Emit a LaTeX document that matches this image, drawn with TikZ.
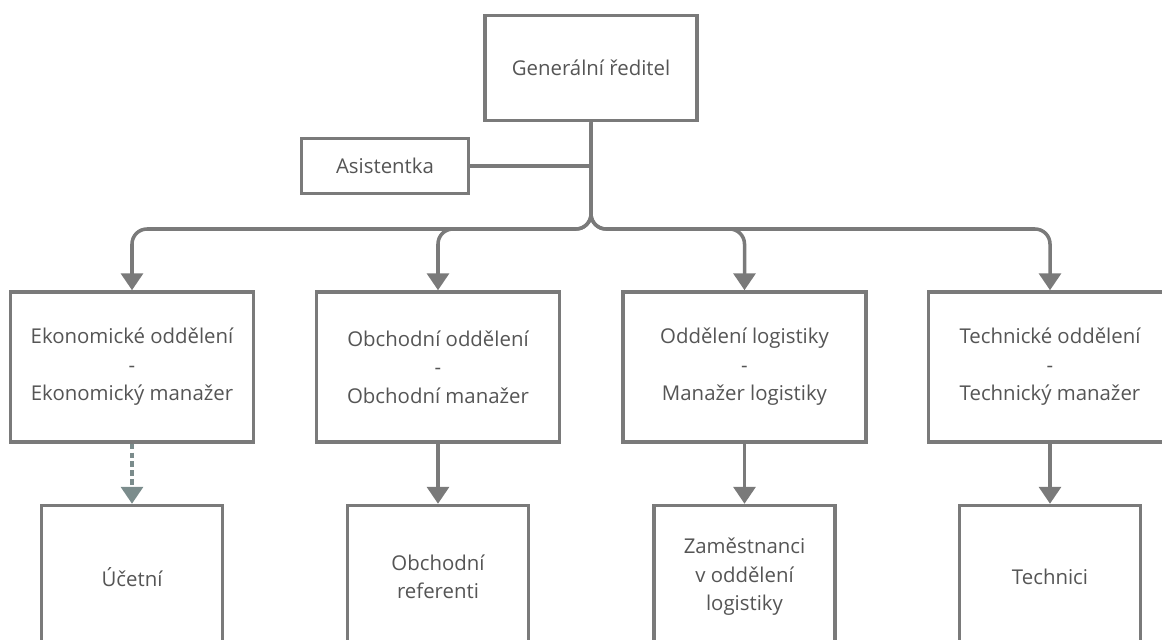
\documentclass[tikz,border=0pt]{standalone}
\usepackage{fontspec}
\setmainfont{Open Sans}
\usetikzlibrary{positioning,calc,arrows.meta}
\definecolor{linegray}{HTML}{7A7A7A}
\definecolor{textgray}{HTML}{555555}
\definecolor{dashgray}{HTML}{7B8C8C}
\tikzset{
    box/.style={rectangle, draw=linegray, line width=2pt, fill=white, text=textgray, align=center, inner sep=0pt, font=\fontsize{11.6}{16.2}\selectfont},
    dept/.style={box, minimum width=4.86cm, minimum height=3cm},
    staff/.style={box, minimum width=3.62cm, minimum height=2.86cm},
    edge/.style={draw=linegray, line width=2pt},
    directed edge/.style={edge, rounded corners=0.3cm, -{Triangle[length=0.34cm,width=0.44cm]}},
    dashed edge/.style={draw=dashgray, line width=2pt, dash pattern=on 3.2pt off 1.8pt, -{Triangle[length=0.34cm,width=0.44cm]}},
}

\begin{document}
\begin{tikzpicture}
    \useasboundingbox (0,0) rectangle (23.24,-12.78);
    \clip (0,0) rectangle (23.24,-12.78);

    \node[box, minimum width=4.24cm, minimum height=2.1cm] (gr) at (11.82,-1.36) {Generální ředitel};
    \node[box, minimum width=3.34cm, minimum height=1.1cm] (asist) at (7.7,-3.32) {Asistentka};

    \node[dept] (ekon) at (2.64,-7.34) {Ekonomické oddělení\\-\\Ekonomický manažer};
    \node[dept] (obch) at (8.76,-7.34) {Obchodní oddělení\\-\\Obchodní manažer};
    \node[dept] (logi) at (14.89,-7.34) {Oddělení logistiky\\-\\Manažer logistiky};
    \node[dept] (tech) at (21.0,-7.34) {Technické oddělení\\-\\Technický manažer};

    \node[staff] (ucet) at (2.64,-11.54) {Účetní};
    \node[staff] (refe) at (8.76,-11.54) {Obchodní\\referenti};
    \node[staff] (zame) at (14.89,-11.54) {Zaměstnanci\\v oddělení\\logistiky};
    \node[staff] (tecs) at (21.0,-11.54) {Technici};

    \coordinate (bar) at (11.82,-4.58);

    \draw[edge] (asist.east) -- (asist.east -| gr.south);
    \foreach \d in {ekon,obch,logi,tech}
        \draw[directed edge] (gr.south) -- (bar) -| (\d.north);

    \draw[dashed edge] (ekon.south) -- (ucet.north);
    \draw[directed edge] (obch.south) -- (refe.north);
    \draw[directed edge] (logi.south) -- (zame.north);
    \draw[directed edge] (tech.south) -- (tecs.north);
\end{tikzpicture}
\end{document}
